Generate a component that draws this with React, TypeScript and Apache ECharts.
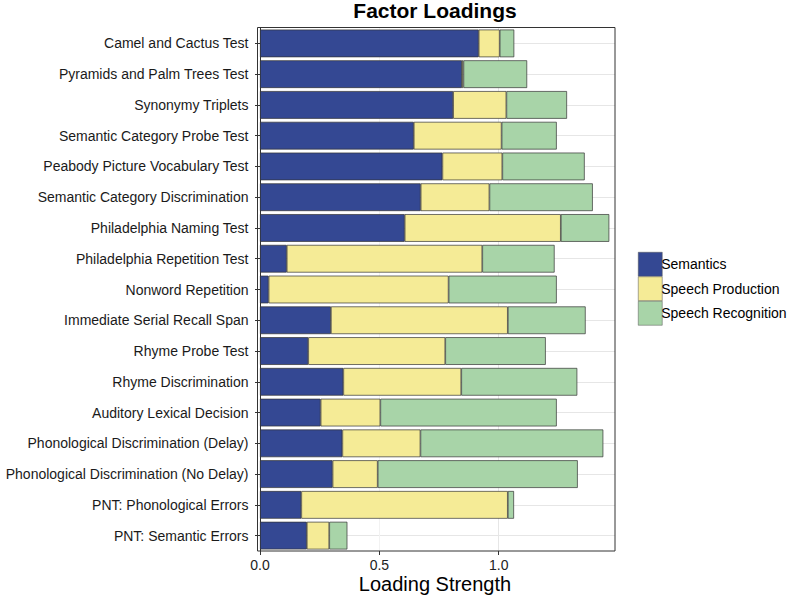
import React, { useEffect, useRef } from "react";
import * as echarts from "echarts";

const categories = [
  "Camel and Cactus Test",
  "Pyramids and Palm Trees Test",
  "Synonymy Triplets",
  "Semantic Category Probe Test",
  "Peabody Picture Vocabulary Test",
  "Semantic Category Discrimination",
  "Philadelphia Naming Test",
  "Philadelphia Repetition Test",
  "Nonword Repetition",
  "Immediate Serial Recall Span",
  "Rhyme Probe Test",
  "Rhyme Discrimination",
  "Auditory Lexical Decision",
  "Phonological Discrimination (Delay)",
  "Phonological Discrimination (No Delay)",
  "PNT: Phonological Errors",
  "PNT: Semantic Errors",
];

const semantics = [0.916, 0.846, 0.809, 0.644, 0.764, 0.673, 0.606, 0.112, 0.036, 0.297, 0.202, 0.349, 0.254, 0.345, 0.304, 0.173, 0.196];
const speechProduction = [0.088, 0.006, 0.223, 0.368, 0.251, 0.288, 0.654, 0.819, 0.754, 0.741, 0.574, 0.494, 0.25, 0.327, 0.189, 0.865, 0.094];
const speechRecognition = [0.061, 0.267, 0.254, 0.231, 0.345, 0.433, 0.203, 0.303, 0.453, 0.326, 0.421, 0.486, 0.739, 0.766, 0.838, 0.026, 0.076];

const seriesNames = ["Semantics", "Speech Production", "Speech Recognition"];
const seriesColors = ["#344893", "#F5EB96", "#A8D4A8"];
const xTickValues = [0, 0.5, 1.0];
const xAxisTitle = "Loading Strength";

export default function App() {
  const ref = useRef<HTMLDivElement>(null);
  useEffect(() => {
    document.body.style.margin = "0";
    if (!ref.current) return;
    const chart = echarts.init(ref.current, undefined, { renderer: "svg" });
    const font = "'Liberation Sans', Arial, sans-serif";
    const dataSets = [semantics, speechProduction, speechRecognition];
    chart.setOption({
      animation: false,
      backgroundColor: "#ffffff",
      textStyle: { fontFamily: font },
      title: {
        text: "Factor Loadings",
        left: 435,
        textAlign: "center",
        top: 0,
        padding: 0,
        textStyle: { fontFamily: font, fontSize: 21, fontWeight: "bold", color: "#000" },
      },
      legend: {
        orient: "vertical",
        left: 638,
        top: 252,
        padding: 0,
        itemWidth: 24,
        itemHeight: 24,
        itemGap: 0,
        icon: "rect",
        data: seriesNames,
        itemStyle: { borderColor: "#555", borderWidth: 0.5 },
        textStyle: { fontFamily: font, fontSize: 14, color: "#000", padding: [0, 0, 0, -6] },
      },
      grid: { left: 260, right: 175, top: 28, bottom: 46, containLabel: false, outerBoundsMode: "none" },
      xAxis: {
        type: "value",
        min: 0,
        max: 1.487,
        interval: 0.25,
        axisLine: { show: false },
        axisTick: { show: true, customValues: xTickValues, length: 4, lineStyle: { color: "#333" } },
        axisLabel: {
          customValues: xTickValues,
          fontSize: 14,
          color: "#222",
          margin: 7,
          formatter: (v: number) => v.toFixed(1),
        },
        splitLine: { show: true, lineStyle: { color: ["#e6e6e6", "#f2f2f2"], width: 1 } },
      },
      yAxis: {
        type: "category",
        data: categories,
        inverse: true,
        offset: 2.5,
        axisLine: { show: true, lineStyle: { color: "#333" } },
        axisTick: { show: true, alignWithLabel: true, length: 5, lineStyle: { color: "#333" } },
        axisLabel: { fontSize: 14, color: "#1a1a1a", margin: 9 },
        splitLine: { show: true, alignWithLabel: true, lineStyle: { color: "#e6e6e6", width: 1 } },
      },
      graphic: [
        {
          type: "rect",
          shape: { x: 257.5, y: 27.5, width: 357.5, height: 523.5 },
          style: { fill: "none", stroke: "#333", lineWidth: 1 },
          z: 100,
          silent: true,
        },
        {
          type: "text",
          x: 435,
          y: 584,
          style: {
            text: xAxisTitle,
            fontFamily: font,
            fontSize: 20,
            fill: "#000",
            textAlign: "center",
            textVerticalAlign: "middle",
          },
          silent: true,
        },
      ],
      series: seriesNames.map((name, i) => ({
        name,
        type: "bar",
        stack: "total",
        barWidth: "90%",
        data: dataSets[i],
        itemStyle: { color: seriesColors[i], borderColor: "#333", borderWidth: 0.7 },
      })),
    });
    return () => chart.dispose();
  }, []);
  return <div ref={ref} style={{ width: 790, height: 597 }} />;
}
